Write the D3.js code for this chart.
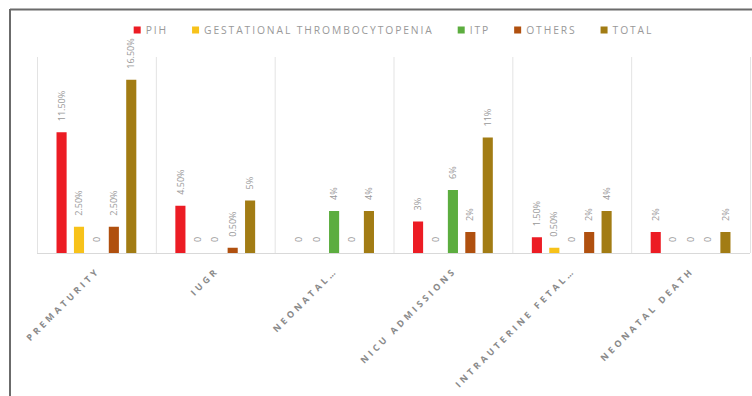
<!DOCTYPE html>
<html>
<head>
<meta charset="utf-8">
<script src="https://cdn.jsdelivr.net/npm/d3@7/dist/d3.min.js"></script>
<style>
  html, body { margin: 0; padding: 0; background: #fff; }
  svg { display: block; font-family: "Open Sans", "Liberation Sans", sans-serif; }
</style>
</head>
<body>
<svg id="chart" width="752" height="396"></svg>
<script>
// Outcome categories (x axis)
const categories = ["PREMATURITY", "IUGR", "NEONATAL…", "NICU ADMISSIONS", "INTRAUTERINE FETAL…", "NEONATAL DEATH"];

// Series names and their values (percent)
const seriesNames = ["PIH", "GESTATIONAL THROMBOCYTOPENIA", "ITP", "OTHERS", "TOTAL"];
const pih    = [11.5, 4.5, 0, 3, 1.5, 2];
const gt     = [2.5, 0, 0, 0, 0.5, 0];
const itp    = [0, 0, 4, 6, 0, 0];
const others = [2.5, 0.5, 0, 2, 2, 0];
const total  = [16.5, 5, 4, 11, 4, 2];

const seriesValues = [pih, gt, itp, others, total];
const colors = ["#ec1c24", "#f7c21a", "#5cad3f", "#b0500f", "#a27c14"];

const svg = d3.select("#chart");

// Chart frame
svg.append("line").attr("x1", 10).attr("x2", 752).attr("y1", 9.5).attr("y2", 9.5)
  .attr("stroke", "#6b6b6b").attr("stroke-width", 2);
svg.append("line").attr("x1", 10).attr("x2", 10).attr("y1", 9).attr("y2", 396)
  .attr("stroke", "#6b6b6b").attr("stroke-width", 2);

const plot = { left: 37, right: 750, top: 57, bottom: 253 };

const x0 = d3.scaleBand().domain(categories).range([plot.left, plot.right]).padding(0);
const x1 = d3.scaleBand().domain(seriesNames).range([0, x0.bandwidth()])
  .paddingInner(0.42).paddingOuter(1.12);
const y = d3.scaleLinear().domain([0, 18]).range([plot.bottom, 64]);

// Vertical separators between categories
const bounds = categories.map(c => x0(c)).concat([plot.right]);
svg.append("g").selectAll("line").data(bounds).join("line")
  .attr("x1", d => d + 0.5).attr("x2", d => d + 0.5)
  .attr("y1", plot.top).attr("y2", plot.bottom)
  .attr("stroke", "#e3e3e3").attr("stroke-width", 1);

// Baseline
svg.append("line").attr("x1", plot.left).attr("x2", plot.right)
  .attr("y1", plot.bottom + 0.5).attr("y2", plot.bottom + 0.5)
  .attr("stroke", "#d9d9d9").attr("stroke-width", 1);

const fmt = v => v === 0 ? "0" : (v % 1 ? v.toFixed(2) + "%" : v + "%");

// Bars and value labels
const rows = [];
categories.forEach((c, ci) => {
  seriesNames.forEach((s, si) => {
    rows.push({ cat: c, series: s, value: seriesValues[si][ci], color: colors[si] });
  });
});

const gBars = svg.append("g");
gBars.selectAll("rect").data(rows).join("rect")
  .attr("x", d => x0(d.cat) + x1(d.series))
  .attr("width", x1.bandwidth())
  .attr("y", d => y(d.value))
  .attr("height", d => y(0) - y(d.value))
  .attr("fill", d => d.color);

gBars.selectAll("text").data(rows).join("text")
  .attr("transform", d => {
    const cx = x0(d.cat) + x1(d.series) + x1.bandwidth() / 2;
    return `translate(${cx},${y(d.value) - 11}) rotate(-90)`;
  })
  .attr("dy", "0.35em")
  .attr("text-anchor", "start")
  .attr("font-size", 9)
  .attr("fill", "#999999")
  .text(d => fmt(d.value));

// Category labels, rotated
svg.append("g").selectAll("text").data(categories).join("text")
  .attr("transform", d => `translate(${x0(d) + x0.bandwidth() / 2 + 2},${plot.bottom + 16}) rotate(-45)`)
  .attr("text-anchor", "end")
  .attr("dy", "0.35em")
  .attr("font-size", 9)
  .attr("font-weight", "bold")
  .attr("letter-spacing", 3.3)
  .attr("fill", "#8a8a8a")
  .text(d => d);

// Legend
const legend = svg.append("g");
let cursor = 0;
seriesNames.forEach((s, i) => {
  const item = legend.append("g").attr("transform", `translate(${cursor},0)`);
  item.append("rect").attr("x", 0).attr("y", -3.5).attr("width", 7).attr("height", 7).attr("fill", colors[i]);
  const t = item.append("text").attr("x", 12).attr("dy", "0.35em")
    .attr("font-size", 10.3).attr("letter-spacing", 1.9).attr("fill", "#999999").text(s);
  cursor += 12 + t.node().getComputedTextLength() + 24;
});
const legendWidth = cursor - 24;
legend.attr("transform", `translate(${(plot.left + plot.right) / 2 - legendWidth / 2},30)`);
</script>
</body>
</html>
